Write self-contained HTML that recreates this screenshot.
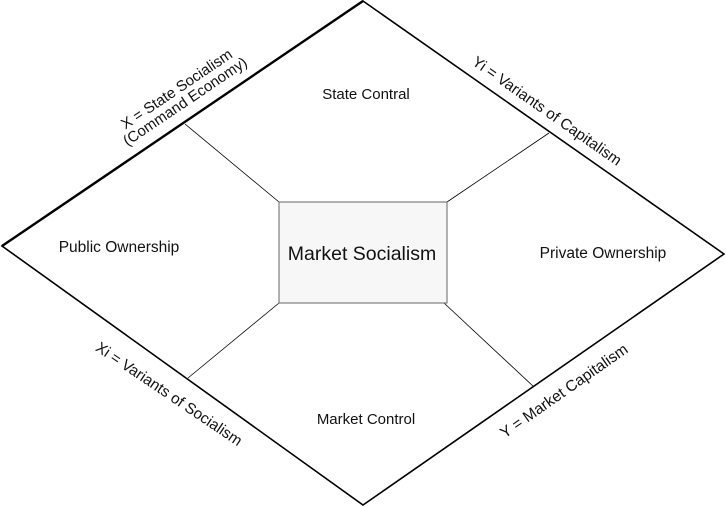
<!DOCTYPE html>
<html><head><style>
body{margin:0;background:#fff}
svg{display:block}
text{font-family:"Liberation Sans",sans-serif;fill:#111}
</style></head><body>
<svg width="726" height="507" viewBox="0 0 726 507" xmlns="http://www.w3.org/2000/svg">
<polygon points="363,1 724,254 363,505 2,246" fill="none" stroke="#000" stroke-width="1.6"/>
<line x1="2" y1="246" x2="363" y2="1" stroke="#000" stroke-width="2.4"/>
<line x1="279" y1="202" x2="185" y2="124" stroke="#000" stroke-width="0.8"/>
<line x1="447" y1="202" x2="549" y2="133" stroke="#000" stroke-width="0.8"/>
<line x1="279" y1="303" x2="188" y2="378" stroke="#000" stroke-width="0.8"/>
<line x1="444" y1="303" x2="534" y2="387" stroke="#000" stroke-width="0.8"/>
<rect x="279" y="202" width="168" height="101" fill="#f7f7f7" stroke="#666" stroke-width="1"/>
<text x="362" y="260" font-size="19.5" text-anchor="middle">Market Socialism</text>
<text x="366" y="99" font-size="15" text-anchor="middle">State Contral</text>
<text x="119" y="252" font-size="15.5" text-anchor="middle">Public Ownership</text>
<text x="603" y="258" font-size="15.5" text-anchor="middle">Private Ownership</text>
<text x="366" y="424" font-size="15" text-anchor="middle">Market Control</text>
<g transform="translate(180,94) rotate(-34)"><text x="0" y="-1" font-size="15" text-anchor="middle">X = State Socialism</text><text x="0" y="14" font-size="15" text-anchor="middle">(Command Economy)</text></g>
<g transform="translate(547,111) rotate(35)"><text x="0" y="5" font-size="15.3" text-anchor="middle">Yi = Variants of Capitalism</text></g>
<g transform="translate(169,394) rotate(34)"><text x="0" y="5" font-size="15.3" text-anchor="middle">Xi = Variants of Socialism</text></g>
<g transform="translate(564,391) rotate(-35)"><text x="0" y="5" font-size="15.5" text-anchor="middle">Y = Market Capitalism</text></g>
</svg>
</body></html>
